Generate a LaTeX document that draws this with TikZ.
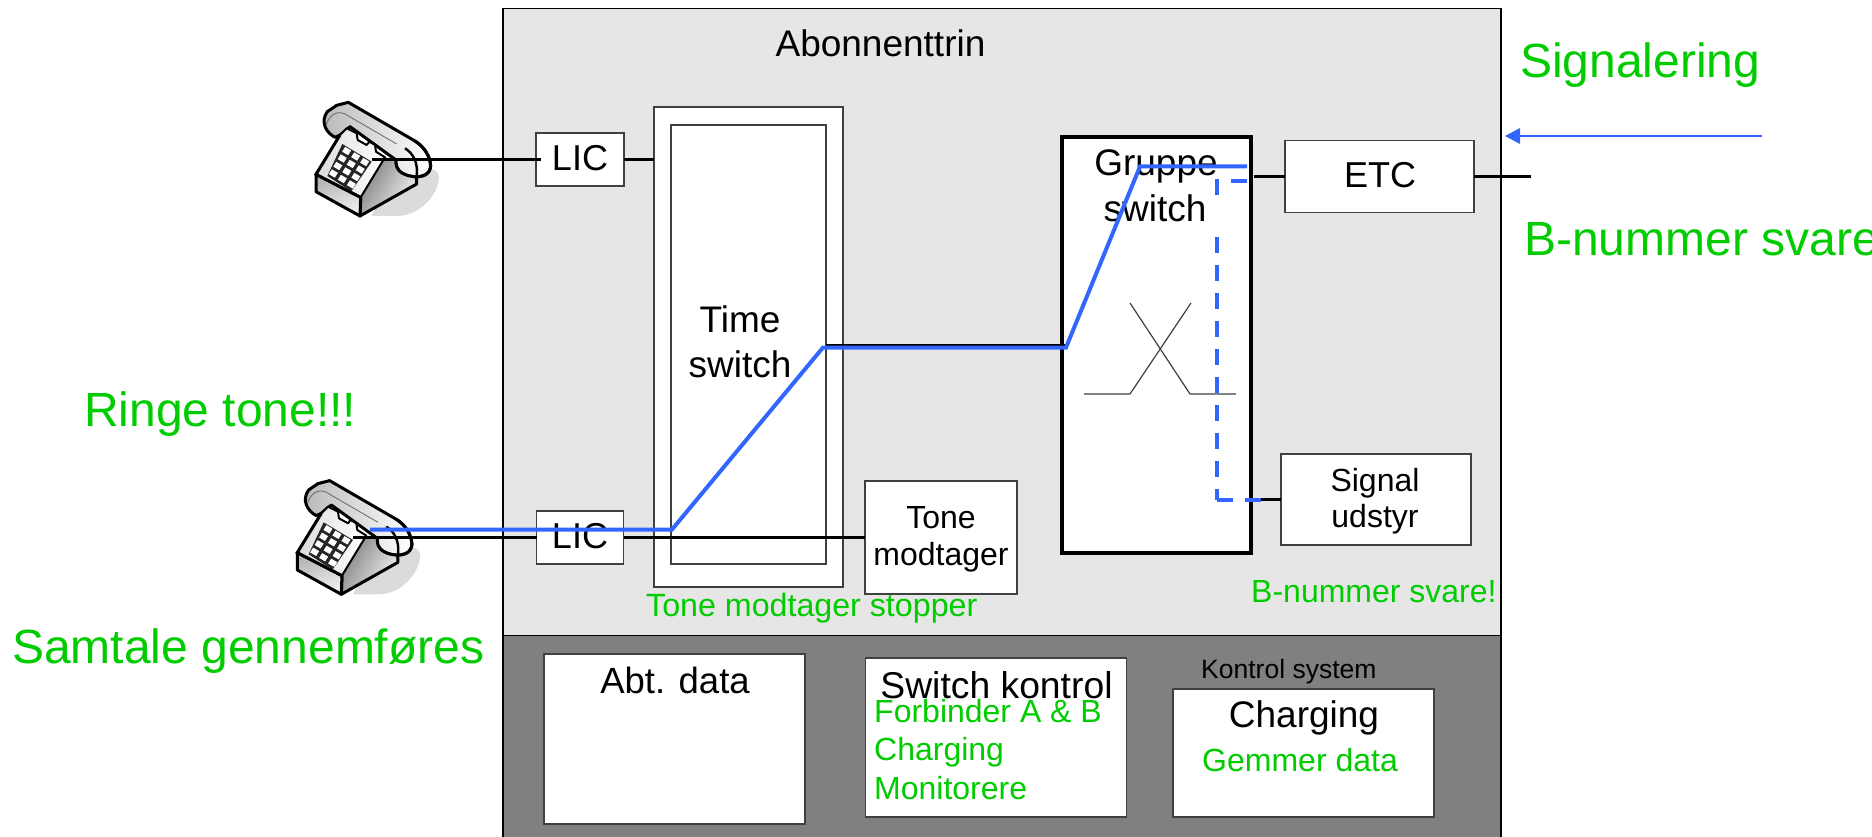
\documentclass[tikz,border=0pt]{standalone}
\usepackage{fontspec}
\setmainfont{Liberation Sans}
\definecolor{panel}{HTML}{E6E6E6}
\definecolor{ctrl}{HTML}{808080}
\definecolor{sig}{HTML}{3366FF}
\definecolor{talk}{HTML}{00CC00}
\definecolor{edge}{HTML}{404040}
\newcommand{\fs}[1]{\fontsize{#1}{#1}\selectfont}
\tikzset{
  bx/.style={draw=edge,line width=1.1pt,fill=white,inner sep=0pt,outer sep=0pt,rectangle},
  txt/.style={inner sep=0pt,anchor=base,text=black},
  gtxt/.style={inner sep=0pt,anchor=base west,text=talk},
  wire/.style={draw=black,line width=3.6pt},
  thin cross/.style={draw=edge,line width=1.2pt},
  route/.style={draw=sig,line width=4pt,line join=miter},
  routed/.style={draw=sig,line width=4pt,dash pattern=on 16pt off 12pt},
  phone/.pic={
    \begin{scope}[scale=1/3]
      \fill[black!14] (300,300) .. controls (400,270) and (440,250) .. (447,290)
        .. controls (445,345) and (390,408) .. (320,408) -- (245,408) -- cycle;
      % handset
      \draw[line width=3pt,left color=black!28,right color=white,line join=round]
        (135,172) .. controls (108,158) and (90,125) .. (112,95) -- (140,76) -- (175,67)
        -- (375,183) .. controls (405,202) and (420,230) .. (422,258)
        .. controls (420,285) and (395,292) .. (370,290)
        .. controls (335,285) and (315,270) .. (318,240) -- (180,140) -- (150,165) -- cycle;
      \draw[line width=.8pt,draw=black!60] (108,135) .. controls (120,100) and (145,92) .. (165,102) -- (320,192);
      % base side and front
      \fill[left color=black!50,right color=black!4,shading angle=60]
        (285,232) -- (318,245) .. controls (318,270) and (335,285) .. (370,290) -- (380,312) -- (210,408) -- (212,352) -- cycle;
      \draw[line width=3pt,line join=round] (380,285) -- (380,312) -- (210,408) -- (212,352);
      \draw[line width=3pt,line join=round,left color=black!30,right color=black!6,shading angle=20]
        (78,283) -- (212,352) -- (210,408) -- (78,335) -- cycle;
      % plate
      \draw[line width=2pt,line join=round,left color=black!14,right color=white]
        (150,165) -- (170,145) -- (200,160) -- (203,180) -- (230,195) -- (238,185) -- (255,195) -- (258,215) -- (285,232)
        -- (212,352) -- (78,283) -- cycle;
      \draw[line width=3pt] (150,165) -- (78,283) -- (212,352);
      % keypad
      \fill[black!85] (157,192) -- (245,245) -- (184,334) -- (112,288) -- cycle;
      \foreach \r in {0,1,2,3}{\foreach \c in {0,1,2}{
        \fill[white,shift={(170+27*\c-13.3*\r,213+16.5*\c+22.5*\r)}]
          (-4.5,-12.5) -- (13.5,-2) -- (4.5,12.5) -- (-13.5,2) -- cycle;}}
      % earpiece loop in front of base
      \draw[line width=3pt,line join=round] (375,183) .. controls (405,202) and (420,230) .. (422,258)
        .. controls (420,285) and (395,292) .. (370,290)
        .. controls (335,285) and (315,270) .. (318,240);
      \draw[line width=2.4pt] (345,205) .. controls (370,220) and (385,250) .. (380,288);
    \end{scope}
  }
}
\begin{document}
\begin{tikzpicture}[x=1pt,y=-1pt]
\useasboundingbox (0,0) rectangle (1872,837);
\fill[white] (0,0) rectangle (1872,837);

% panels
\node[draw=black,line width=1.4pt,fill=panel,inner sep=0pt,outer sep=0pt,minimum width=998pt,minimum height=627pt] (sub) at (1002,322) {};
\node[draw=black,line width=1.4pt,fill=ctrl,inner sep=0pt,outer sep=0pt,minimum width=998pt,minimum height=204pt,anchor=north] (ctl) at (1002,635.5) {};

% phones
\pic (ph1) at (290,80) {phone};
\pic (ph2) at (271.3,458.3) {phone};

% free ends
\coordinate (ph1jack) at (372,159.5);
\coordinate (ph2jack) at (353,537.5);
\coordinate (ph2blue) at (370,529.5);
\coordinate (trunk) at (1531,176.5);
\coordinate (arrowstart) at (1762,136);
\coordinate (arrowend) at (1505,136);
\coordinate (timeL) at (672,529.5);
\coordinate (timeR) at (823,347.5);
\coordinate (grpL) at (1066,347.5);
\coordinate (grpT) at (1140,166.5);
\coordinate (grpE) at (1247,166.5);
\coordinate (dashA) at (1247,181);
\coordinate (dashB) at (1217,181);
\coordinate (dashC) at (1217,197);
\coordinate (dashD) at (1217,237);
\coordinate (dashE) at (1217,499.5);
\coordinate (dashF) at (1261,499.5);

% boxes
\node[bx,minimum width=88pt,minimum height=53pt] (lic1) at (580,159.5) {};
\node[bx,minimum width=87pt,minimum height=53pt] (lic2) at (580,537.5) {};
\node[bx,minimum width=189pt,minimum height=480pt,anchor=north west] (timeo) at (654,107) {};
\node[bx,minimum width=155pt,minimum height=439pt,anchor=north west] (timei) at (671,125) {};
\node[bx,minimum width=152pt,minimum height=113pt] (tone) at (941,537.5) {};
\node[draw=black,line width=4pt,fill=white,inner sep=0pt,outer sep=0pt,minimum width=189pt,minimum height=416pt,anchor=north west] (grp) at (1062,137) {};
\node[bx,minimum width=189pt,minimum height=72.5pt] (etc) at (1379.5,176.5) {};
\node[bx,minimum width=190pt,minimum height=91pt] (sgn) at (1376,499.5) {};
\node[bx,minimum width=261pt,minimum height=170pt,anchor=north west] (abt) at (544,654) {};
\node[bx,minimum width=261pt,minimum height=159pt,anchor=north west] (swk) at (865.5,658) {};
\node[bx,minimum width=261pt,minimum height=128pt,anchor=north west] (chg) at (1173,689) {};

% crossing symbol
\draw[thin cross] (1084,394) -- (1130,394) -- (1191,303);
\draw[thin cross] (1130,303) -- (1190,394) -- (1236,394);

% black wires
\draw[wire,shorten >=-5pt] (ph1jack) -- (lic1.west);
\draw[wire] (lic1.east) -- (lic1.east -| timeo.west);
\draw[wire] (ph2jack) -- (lic2.west);
\draw[wire] (lic2.east) -- (tone.west);
\draw[wire] (timeR) ++(3,-1.5) coordinate (blackA) (blackA) -- (grpL |- blackA);
\draw[wire] (1254,176.5) coordinate (etcstub) -- (etc.west);
\draw[wire] (etc.east) -- (trunk);
\draw[wire] (sgn.west) -- (dashF);

% texts
\node[txt,font=\fs{37}] (t1) at (880.5,57) {Abonnenttrin};
\node[gtxt,font=\fs{48}] (t2) at (1520,77.5) {Signalering};
\node[gtxt,font=\fs{48}] (t3) at (1524,255) {B-nummer svare};
\node[gtxt,font=\fs{48}] (t4) at (84,426) {Ringe tone!!!};
\node[gtxt,font=\fs{48}] (t5) at (12,663) {Samtale gennemføres};
\node[txt,font=\fs{36}] (t6) at (580,171) {LIC};
\node[txt,font=\fs{36}] (t7) at (580,548) {LIC};
\node[txt,font=\fs{37}] (t8) at (740,332) {Time};
\node[txt,font=\fs{37}] (t9) at (740,377) {switch};
\node[txt,font=\fs{37}] (t10) at (1156,176) {Gruppe};
\node[txt,font=\fs{37}] (t11) at (1155,222) {switch};
\node[txt,font=\fs{36}] (t12) at (1380,188) {ETC};
\node[txt,font=\fs{32}] (t13) at (941,528) {Tone};
\node[txt,font=\fs{32}] (t14) at (941,565) {modtager};
\node[txt,font=\fs{32}] (t15) at (1375,491) {Signal};
\node[txt,font=\fs{32}] (t16) at (1375,527) {udstyr};
\node[gtxt,font=\fs{32.2}] (t17) at (646,616) {Tone modtager stopper};
\node[gtxt,font=\fs{32}] (t18) at (1251,602) {B-nummer svare!};
\node[txt,font=\fs{36.5}] (t19) at (675,693) {Abt. data};
\node[txt,font=\fs{37.3}] (t20) at (996.5,698) {Switch kontrol};
\node[gtxt,font=\fs{32}] (t21) at (874,722) {Forbinder A \& B};
\node[gtxt,font=\fs{32}] (t22) at (874,760.5) {Charging};
\node[gtxt,font=\fs{32}] (t23) at (874,799) {Monitorere};
\node[gtxt,font=\fs{26.5},text=black] (t24) at (1201,678) {Kontrol system};
\node[txt,font=\fs{37}] (t25) at (1304,727) {Charging};
\node[gtxt,font=\fs{32}] (t26) at (1202,771) {Gemmer data};

% blue routes
\draw[route] (ph2blue) -- (timeL) -- (timeR) -- (grpL) -- (grpT) -- (grpE);
\draw[routed] (dashA) -- (dashB) -- (dashC);
\draw[routed] (dashD) -- (dashE);
\draw[routed] (dashE) -- (dashF);
\draw[draw=sig,line width=2pt] (arrowstart) -- (1520,136) coordinate (arrowneck);
\fill[sig] (arrowend) -- (arrowneck |- 0,128) -- (arrowneck |- 0,144) -- cycle;
\end{tikzpicture}
\end{document}
